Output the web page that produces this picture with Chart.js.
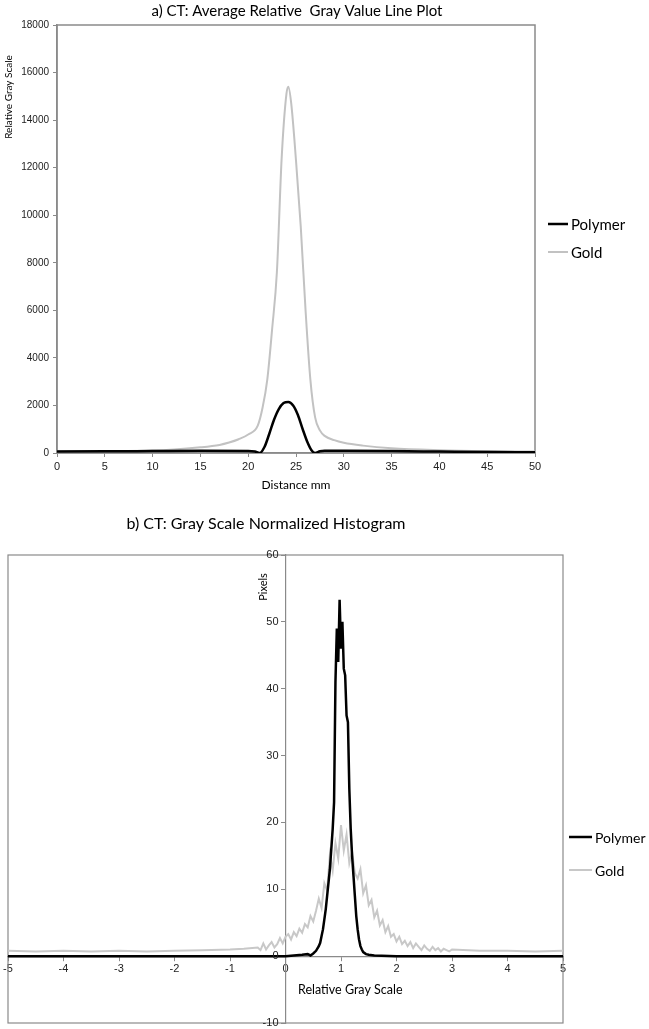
<!DOCTYPE html>
<html>
<head>
<meta charset="utf-8">
<script src="https://cdn.jsdelivr.net/npm/chart.js@4.4.0/dist/chart.umd.min.js"></script>
<style>
  html, body { margin: 0; padding: 0; background: #fff; }
  #wrap { position: relative; width: 649px; height: 1029px; }
  canvas { position: absolute; left: 0; }
  #lineChart { top: 0; }
  #histChart { top: 500px; }
</style>
</head>
<body>
<div id="wrap">
  <canvas id="lineChart" width="649" height="500"></canvas>
  <canvas id="histChart" width="649" height="529"></canvas>
</div>
<script>
// a) line plot: distance (mm) vs relative gray value
const polyDist = [0, 5, 10, 15, 20, 20.7, 21.2, 21.7, 22.2, 22.7, 23.2, 23.7, 24.2, 24.7, 25.2, 25.7, 26.2, 26.6, 27, 27.5, 28, 30, 35, 40, 45, 50];
const polyGray = [60, 70, 80, 90, 85, 60, 0, 250, 800, 1400, 1850, 2100, 2150, 2000, 1600, 1000, 450, 130, 0, 70, 90, 90, 80, 60, 40, 30];
const goldDist = [0, 5, 10, 15, 17, 18, 19, 20, 21, 21.5, 22, 22.5, 23, 23.5, 24, 24.2, 24.5, 25, 25.5, 26, 26.5, 27, 27.5, 28, 29, 30, 32, 35, 40, 45, 50];
const goldGray = [70, 80, 100, 240, 340, 440, 580, 780, 1150, 1900, 3100, 5200, 7600, 12400, 15100, 15400, 14700, 12300, 9500, 6000, 3100, 1500, 950, 720, 540, 430, 310, 200, 120, 80, 60];

// b) histogram: relative gray scale vs pixels
const polyBin = [-5, -4, -3, -2, -1.5, -1, -0.5, 0, 0.3, 0.4, 0.45, 0.5, 0.55, 0.6,
  0.625, 0.65, 0.675, 0.7, 0.725, 0.75, 0.775, 0.8, 0.825, 0.85, 0.875, 0.9, 0.925, 0.95, 0.975, 1.0,
  1.025, 1.05, 1.075, 1.1, 1.125, 1.15, 1.175, 1.2, 1.225, 1.25, 1.275, 1.3, 1.325, 1.35, 1.375, 1.4,
  1.45, 1.5, 1.6, 2, 3, 4, 5];
const polyPixels = [0, 0, 0, 0, 0, 0, 0, 0, 0.2, 0.3, 0.1, 0.4, 0.8, 1.5,
  2, 3, 4, 5.5, 7, 9, 11, 13, 16, 19, 23, 41, 49, 44, 53.3, 46,
  50, 43, 42, 36, 35, 25, 19, 15, 12, 9, 6, 4, 2.5, 1.5, 1, 0.6,
  0.3, 0.2, 0.1, 0, 0, 0, 0];
const goldBin = [-5, -4.5, -4, -3.5, -3, -2.5, -2, -1.5, -1, -0.75, -0.5,
  -0.45, -0.4, -0.35, -0.3, -0.25, -0.2, -0.15, -0.1, -0.05, 0,
  0.05, 0.1, 0.15, 0.2, 0.25, 0.3, 0.35, 0.4, 0.45, 0.5,
  0.55, 0.6, 0.65, 0.7, 0.75, 0.8, 0.85, 0.9, 0.95, 1,
  1.05, 1.1, 1.15, 1.2, 1.25, 1.3, 1.35, 1.4, 1.45, 1.5,
  1.55, 1.6, 1.65, 1.7, 1.75, 1.8, 1.85, 1.9, 1.95, 2,
  2.05, 2.1, 2.15, 2.2, 2.25, 2.3, 2.35, 2.4, 2.45, 2.5,
  2.55, 2.6, 2.65, 2.7, 2.75, 2.8, 2.85, 2.9, 2.95, 3,
  3.5, 4, 4.5, 5];
const goldPixels = [0.8, 0.7, 0.8, 0.7, 0.8, 0.7, 0.8, 0.9, 1.0, 1.1, 1.3,
  0.9, 1.9, 1.0, 1.6, 2.1, 1.3, 1.8, 2.7, 1.9, 2.9,
  3.3, 2.5, 3.6, 3.0, 4.1, 3.5, 4.8, 4.3, 6.0, 5.2,
  6.8, 8.6, 7.2, 10.9, 9.8, 15.2, 12.8, 16.9, 14.6, 19.6,
  15.8, 18.2, 13.9, 15.6, 12.4, 11.6, 13.0, 9.4, 10.6, 7.6,
  8.4, 5.8, 6.8, 4.6, 5.4, 3.6, 4.5, 2.9, 3.3, 2.2,
  2.9, 1.8, 2.3, 1.5, 2.1, 1.2, 1.9, 1.4, 0.9, 1.6,
  1.1, 0.8, 1.4, 0.9, 1.2, 0.7, 1.1, 0.9, 0.7, 1.0,
  0.8, 0.8, 0.7, 0.8];

const seriesNames = ['Polymer', 'Gold'];
const seriesColors = ['#000000', '#c2c2c2'];

const pairs = (xs, ys) => xs.map((x, i) => ({ x, y: ys[i] }));

// gray box round the plot area
const boxFrame = {
  id: 'boxFrame',
  beforeDatasetsDraw(chart, args, o) {
    const { ctx, chartArea: a } = chart;
    ctx.save();
    ctx.strokeStyle = o.color;
    ctx.lineWidth = o.width;
    ctx.strokeRect(a.left, a.top, a.right - a.left, a.bottom - a.top);
    ctx.restore();
  }
};

// titles and axis names at fixed spots
const textNotes = {
  id: 'textNotes',
  afterDraw(chart, args, o) {
    const ctx = chart.ctx;
    (o.items || []).forEach(t => {
      ctx.save();
      ctx.font = t.font;
      ctx.fillStyle = '#000';
      ctx.textAlign = t.align || 'center';
      ctx.textBaseline = 'middle';
      ctx.translate(t.x, t.y);
      if (t.rotate) ctx.rotate(t.rotate);
      ctx.fillText(t.text, 0, 0);
      ctx.restore();
    });
  }
};

// y labels left of a y axis that sits at x = 0
const centerYLabels = {
  id: 'centerYLabels',
  afterDraw(chart, args, o) {
    const { ctx, scales: { x, y } } = chart;
    const px = x.getPixelForValue(0) - o.gap;
    ctx.save();
    ctx.font = o.font;
    ctx.fillStyle = o.color;
    ctx.textAlign = 'right';
    ctx.textBaseline = 'middle';
    y.ticks.forEach(t => ctx.fillText(String(t.value), px, y.getPixelForValue(t.value)));
    ctx.restore();
  }
};

// legend to the right, one line sample per series
const sideLegend = {
  id: 'sideLegend',
  afterDraw(chart, args, o) {
    const ctx = chart.ctx;
    ctx.save();
    ctx.font = o.size + 'px Lato';
    ctx.textBaseline = 'middle';
    ctx.textAlign = 'left';
    chart.data.datasets.forEach((ds, i) => {
      const y = o.y + i * o.gap;
      ctx.strokeStyle = ds.borderColor;
      ctx.lineWidth = ds.borderWidth;
      ctx.beginPath();
      ctx.moveTo(o.x, y);
      ctx.lineTo(o.x + o.len, y);
      ctx.stroke();
      ctx.fillStyle = '#000';
      ctx.fillText(ds.label, o.x + o.len + 3, y + 1);
    });
    ctx.restore();
  }
};

const tickFont = { family: 'Liberation Sans', size: 11 };
const axisGray = '#8a8a8a';

new Chart(document.getElementById('lineChart'), {
  type: 'line',
  data: {
    datasets: [
      { label: seriesNames[0], data: pairs(polyDist, polyGray), borderColor: seriesColors[0], borderWidth: 2.5,
        pointRadius: 0, tension: 0.4, cubicInterpolationMode: 'monotone', fill: false },
      { label: seriesNames[1], data: pairs(goldDist, goldGray), borderColor: seriesColors[1], borderWidth: 2,
        pointRadius: 0, tension: 0.4, cubicInterpolationMode: 'monotone', fill: false }
    ]
  },
  options: {
    responsive: false,
    animation: false,
    layout: { padding: { top: 25, right: 114, left: 0, bottom: 0 } },
    plugins: {
      legend: { display: false },
      title: { display: false },
      tooltip: { enabled: false },
      boxFrame: { color: axisGray, width: 1.5 },
      sideLegend: { x: 548, y: 224, gap: 28, len: 20, size: 15 },
      textNotes: { items: [
        { text: 'a) CT: Average Relative  Gray Value Line Plot', x: 297, y: 11, font: '15px Lato' },
        { text: 'Relative Gray Scale', x: 9, y: 97, font: '10px Lato', rotate: -Math.PI / 2 },
        { text: 'Distance mm', x: 296, y: 485, font: '12px Lato' }
      ] }
    },
    scales: {
      x: {
        type: 'linear', min: 0, max: 50,
        afterFit: s => { s.height = 47; },
        grid: { display: true, drawOnChartArea: false, tickLength: 4, color: axisGray },
        border: { color: axisGray, width: 1.5 },
        ticks: { stepSize: 5, color: '#222', font: tickFont, padding: 3, maxRotation: 0, callback: v => String(v) }
      },
      y: {
        min: 0, max: 18000,
        afterFit: s => { s.width = 57; },
        grid: { display: true, drawOnChartArea: false, tickLength: 4, color: axisGray },
        border: { color: axisGray, width: 1.5 },
        ticks: { stepSize: 2000, color: '#222', font: { family: 'Liberation Sans', size: 10 }, padding: 4,
                 callback: v => String(v) }
      }
    }
  },
  plugins: [boxFrame, textNotes, sideLegend]
});

new Chart(document.getElementById('histChart'), {
  type: 'line',
  data: {
    datasets: [
      { label: seriesNames[0], data: pairs(polyBin, polyPixels), borderColor: seriesColors[0], borderWidth: 2.5,
        pointRadius: 0, tension: 0, fill: false },
      { label: seriesNames[1], data: pairs(goldBin, goldPixels), borderColor: '#c8c8c8', borderWidth: 2,
        pointRadius: 0, tension: 0, fill: false }
    ]
  },
  options: {
    responsive: false,
    animation: false,
    layout: { padding: { top: 55, right: 86, left: 8, bottom: 6 } },
    plugins: {
      legend: { display: false },
      title: { display: false },
      tooltip: { enabled: false },
      boxFrame: { color: axisGray, width: 1.2 },
      centerYLabels: { gap: 7, font: '11px Liberation Sans', color: '#222' },
      sideLegend: { x: 569, y: 337, gap: 33, len: 23, size: 14 },
      textNotes: { items: [
        { text: 'b) CT: Gray Scale Normalized Histogram', x: 266, y: 24, font: '16px Lato' },
        { text: 'Pixels', x: 263, y: 87, font: '11px Lato', rotate: -Math.PI / 2 },
        { text: 'Relative Gray Scale', x: 298, y: 490, font: '12.5px Lato', align: 'left' }
      ] }
    },
    scales: {
      x: {
        type: 'linear', min: -5, max: 5,
        position: { y: 0 },
        grid: { display: true, drawOnChartArea: false, tickLength: 4, color: axisGray },
        border: { color: axisGray, width: 1.2 },
        ticks: { stepSize: 1, color: '#222', font: tickFont, padding: 2, maxRotation: 0 }
      },
      y: {
        min: -10, max: 60,
        position: { x: 0 },
        grid: { display: true, drawOnChartArea: false, tickLength: 4, color: axisGray },
        border: { color: axisGray, width: 1.2 },
        ticks: { stepSize: 10, display: false }
      }
    }
  },
  plugins: [boxFrame, textNotes, centerYLabels, sideLegend]
});
</script>
</body>
</html>
